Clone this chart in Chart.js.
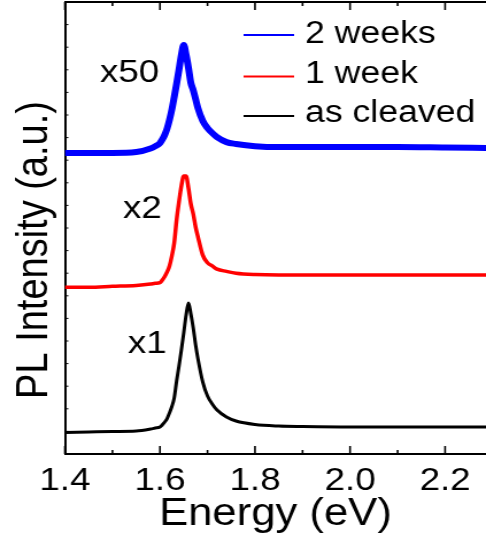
<!DOCTYPE html>
<html>
<head>
<meta charset="utf-8">
<script src="https://cdn.jsdelivr.net/npm/chart.js@4"></script>
<style>
  html, body { margin: 0; padding: 0; background: #fff; overflow: hidden; }
  /* the original figure is stretched sideways, so the canvas is too */
  #plot { transform: scaleX(1.1489); transform-origin: 0 0; }
</style>
</head>
<body>
<canvas id="plot" width="423" height="540"></canvas>
<script>
// photon energy (eV)
const energy = [1.40, 1.45, 1.50, 1.55, 1.58, 1.59, 1.60, 1.605, 1.61, 1.615, 1.62, 1.625, 1.63, 1.635, 1.64,
    1.645, 1.65, 1.655, 1.66, 1.665, 1.67, 1.675, 1.68, 1.69, 1.70, 1.71, 1.72, 1.74, 1.76, 1.80, 1.85, 1.90,
    2.00, 2.10, 2.20, 2.29];

// PL intensity, offset and scaled per curve (a.u.)
const pl2weeks = [66.6, 66.6, 66.6, 66.8, 67.6, 68.1, 68.8, 69.6, 70.6, 72.0, 73.9, 76.2, 79.0, 81.9, 85.0,
    88.3, 90.5, 88.3, 85.4, 82.1, 80.5, 78.5, 76.5, 73.7, 72.1, 71.0, 70.1, 69.0, 68.6, 68.1, 67.9, 67.9,
    67.9, 67.9, 67.8, 67.7];
const pl1week = [36.9, 36.9, 37.1, 37.3, 37.6, 37.77, 37.9, 38.5, 39.27, 40.27, 41.59, 43.81, 46.68, 51.8, 55.8,
    59.3, 61.5, 61.5, 58.8, 55.3, 53.1, 50.2, 48.0, 44.0, 42.3, 41.6, 40.9, 40.4, 40.0, 39.7, 39.6, 39.6,
    39.6, 39.6, 39.6, 39.6];
const plCleaved = [4.76, 4.87, 4.98, 5.09, 5.53, 5.75, 5.97, 6.46, 7.08, 7.85, 9.07, 10.51, 12.39, 16.15, 19.47,
    23.01, 26.77, 30.75, 33.41, 30.97, 27.88, 24.12, 21.02, 15.93, 12.83, 11.06, 9.73, 8.19, 7.30, 6.53, 6.19, 6.08,
    5.97, 5.97, 5.97, 5.97];

const seriesLabels = ['2 weeks', '1 week', 'as cleaved'];
const multipliers = ['x50', 'x2', 'x1'];
const xTickLabels = ['1.4', '1.6', '1.8', '2.0', '2.2'];

const FONT = "'Liberation Sans', Arial, sans-serif";

function points(values) {
    return energy.map((e, i) => ({ x: e, y: values[i] }));
}

// frame, inward ticks, legend, multipliers and y title
const decorations = {
    id: 'decorations',
    afterDraw(chart) {
        const { ctx, chartArea: a, scales: { x, y } } = chart;
        ctx.save();
        ctx.strokeStyle = '#000';
        ctx.lineWidth = 2;
        ctx.beginPath();
        ctx.moveTo(a.left, a.top);
        ctx.lineTo(a.right, a.top);
        ctx.stroke();

        ctx.lineWidth = 1.6;
        ctx.beginPath();
        x.ticks.forEach(t => {
            const px = x.getPixelForValue(t.value);
            const len = t.label ? 8 : 4;
            ctx.moveTo(px, a.bottom);
            ctx.lineTo(px, a.bottom - len);
            ctx.moveTo(px, a.top);
            ctx.lineTo(px, a.top + len);
        });
        ctx.stroke();
        ctx.lineWidth = 1;
        ctx.beginPath();
        y.ticks.forEach(t => {
            const py = y.getPixelForValue(t.value);
            ctx.moveTo(a.left, py);
            ctx.lineTo(a.left + 3, py);
        });
        ctx.stroke();

        // legend
        const lineY = [35, 76.5, 116];
        const textY = [43, 83, 122];
        ctx.font = '31px ' + FONT;
        ctx.textAlign = 'left';
        ctx.textBaseline = 'alphabetic';
        chart.data.datasets.forEach((ds, i) => {
            ctx.strokeStyle = ds.borderColor;
            ctx.lineWidth = 2;
            ctx.beginPath();
            ctx.moveTo(212, lineY[i]);
            ctx.lineTo(256, lineY[i]);
            ctx.stroke();
            ctx.fillStyle = '#000';
            ctx.fillText(ds.label, 265.5, textY[i]);
        });

        // multiplier next to each curve
        const at = [[1.4737, 82.3], [1.5221, 52.2], [1.5326, 22.35]];
        ctx.font = '32px ' + FONT;
        multipliers.forEach((m, i) => {
            ctx.fillText(m, x.getPixelForValue(at[i][0]), y.getPixelForValue(at[i][1]));
        });

        // y axis title
        ctx.translate(41, 250);
        ctx.rotate(-Math.PI / 2);
        ctx.textAlign = 'center';
        ctx.font = '38px ' + FONT;
        ctx.fillText('PL Intensity (a.u.)', 0, 0);
        ctx.restore();
    }
};

const colors = ['#0000ff', '#ff0000', '#000000'];
const widths = [6, 3.5, 3];
const series = [pl2weeks, pl1week, plCleaved];

new Chart(document.getElementById('plot'), {
    type: 'line',
    data: {
        datasets: series.map((s, i) => ({
            label: seriesLabels[i],
            data: points(s),
            borderColor: colors[i],
            borderWidth: widths[i],
            pointRadius: 0,
            cubicInterpolationMode: 'monotone'
        }))
    },
    options: {
        responsive: false,
        animation: false,
        devicePixelRatio: 1,
        layout: { padding: { top: 2, right: 0, bottom: 0, left: 0 } },
        plugins: {
            legend: { display: false },
            tooltip: { enabled: false }
        },
        scales: {
            x: {
                type: 'linear',
                min: 1.4,
                max: 2.286,
                afterFit: s => { s.height = 86; },
                grid: { display: false, drawTicks: false },
                border: { color: '#000', width: 2 },
                ticks: {
                    stepSize: 0.1,
                    includeBounds: false,
                    autoSkip: false,
                    maxRotation: 0,
                    padding: 8,
                    color: '#000',
                    font: { family: FONT, size: 32 },
                    callback: v => {
                        const s = v.toFixed(1);
                        return xTickLabels.includes(s) ? s : '';
                    }
                },
                title: {
                    display: true,
                    text: 'Energy (eV)',
                    color: '#000',
                    font: { family: FONT, size: 38 },
                    padding: { top: 0, bottom: 3 }
                }
            },
            y: {
                min: 0,
                max: 100,
                afterFit: s => { s.width = 56.5; },
                grid: { display: false, drawTicks: false },
                border: { color: '#000', width: 2 },
                ticks: { display: false, stepSize: 5 }
            }
        }
    },
    plugins: [decorations]
});
</script>
</body>
</html>
